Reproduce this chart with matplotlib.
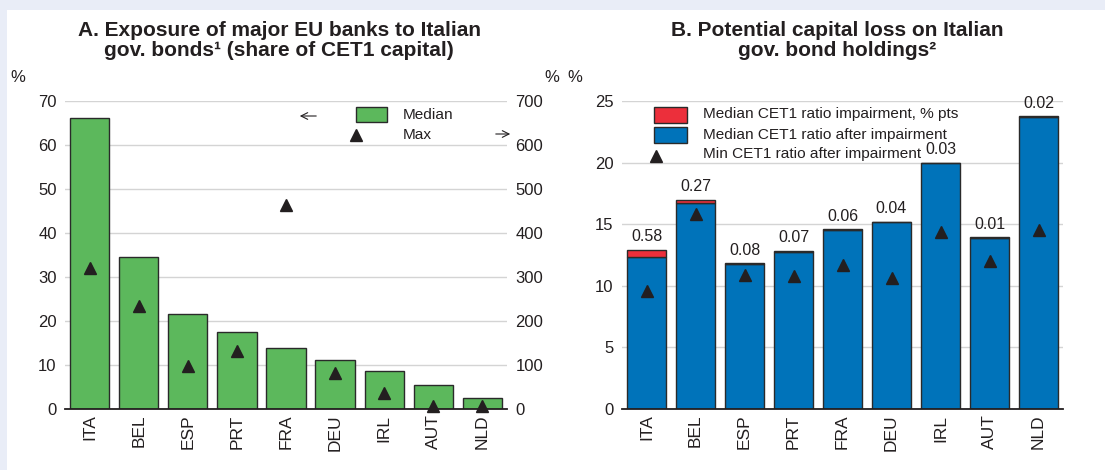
import matplotlib
matplotlib.use("Agg")
import matplotlib.pyplot as plt
from matplotlib.patches import Rectangle, FancyArrowPatch
from matplotlib.lines import Line2D

plt.rcParams['font.family'] = ['Liberation Sans', 'DejaVu Sans']
plt.rcParams['text.color'] = '#231f20'
plt.rcParams['axes.labelcolor'] = '#231f20'
plt.rcParams['xtick.color'] = '#231f20'
plt.rcParams['ytick.color'] = '#231f20'

# ---- data -----------------------------------------------------------------
countries = ["ITA", "BEL", "ESP", "PRT", "FRA", "DEU", "IRL", "AUT", "NLD"]

# Panel A: exposure to Italian government bonds, % of CET1 capital
exposure_median = [66.1, 34.5, 21.7, 17.6, 13.9, 11.1, 8.6, 5.5, 2.6]
exposure_max = [320, 235, 97, 132, 464, 82, 36, 7, 6]

# Panel B: CET1 ratios, %
cet1_after = [12.35, 16.70, 11.74, 12.77, 14.54, 15.14, 19.97, 13.92, 23.74]
cet1_impairment = [0.58, 0.27, 0.08, 0.07, 0.06, 0.04, 0.03, 0.01, 0.02]
cet1_min_after = [9.6, 15.8, 10.9, 10.8, 11.7, 10.6, 14.4, 12.0, 14.5]

yticks_a_left = [0, 10, 20, 30, 40, 50, 60, 70]
yticks_a_right = [0, 100, 200, 300, 400, 500, 600, 700]
yticks_b = [0, 5, 10, 15, 20, 25]

# ---- style ----------------------------------------------------------------
GREEN = '#5cb85c'
BLUE = '#0073ba'
RED = '#ec2f3b'
EDGE = '#2a2a2a'
DARK = '#231f20'
GRID = '#d4d4d4'
BAND = '#e9edf7'
FS = 11.5
YTICK_FS = 12
XTICK_FS = 12.5
LEG_FS = 11.1
BAR_W = 0.80

W, H = 1105, 470
fig = plt.figure(figsize=(W / 100, H / 100), dpi=100)


def fx(x):
    return x / W


def fy(y):
    return 1 - y / H


# light frame around the chart area
fig.patches.append(Rectangle((0, fy(10)), 1, 10 / H, transform=fig.transFigure,
                             facecolor=BAND, edgecolor='none', zorder=0))
fig.patches.append(Rectangle((0, 0), fx(7), 1, transform=fig.transFigure,
                             facecolor=BAND, edgecolor='none', zorder=0))


def style_axes(ax):
    for side in ('left', 'right', 'top'):
        ax.spines[side].set_visible(False)
    ax.spines['bottom'].set_color(DARK)
    ax.spines['bottom'].set_linewidth(1.3)
    ax.spines['bottom'].set_zorder(5)
    ax.tick_params(axis='both', length=0)
    ax.tick_params(axis='y', pad=6, labelsize=YTICK_FS)
    ax.tick_params(axis='x', pad=4, labelsize=XTICK_FS)
    ax.yaxis.grid(True, color=GRID, linewidth=1.0)
    ax.set_axisbelow(True)


x = list(range(len(countries)))

# ---- panel A --------------------------------------------------------------
axA = fig.add_axes([fx(65), fy(409), fx(442), 308 / H])
style_axes(axA)
axA.bar(x, exposure_median, width=BAR_W, color=GREEN, edgecolor=EDGE,
        linewidth=1.0, zorder=2)
axA.set_xlim(-0.5, 8.5)
axA.set_ylim(0, 70)
axA.set_yticks(yticks_a_left)
axA.set_xticks(x)
axA.set_xticklabels(countries, rotation=90)

axA2 = axA.twinx()
for side in ('left', 'right', 'top', 'bottom'):
    axA2.spines[side].set_visible(False)
axA2.set_ylim(0, 700)
axA2.set_yticks(yticks_a_right)
axA2.tick_params(axis='y', length=0, labelsize=YTICK_FS, pad=6)
axA2.plot(x, exposure_max, linestyle='none', marker='^', markersize=9,
          color=DARK, zorder=6, clip_on=False)

# ---- panel B --------------------------------------------------------------
axB = fig.add_axes([fx(622), fy(409), fx(441), 308 / H])
style_axes(axB)
axB.bar(x, cet1_after, width=BAR_W, color=BLUE, edgecolor=EDGE,
        linewidth=1.0, zorder=2)
axB.bar(x, cet1_impairment, bottom=cet1_after, width=BAR_W, color=RED,
        edgecolor=EDGE, linewidth=1.0, zorder=2)
axB.plot(x, cet1_min_after, linestyle='none', marker='^', markersize=9,
         color=DARK, zorder=6)
for xi, base, imp in zip(x, cet1_after, cet1_impairment):
    axB.annotate(f"{imp:.2f}", (xi, base + imp), xytext=(0, 4),
                 textcoords='offset points', ha='center', va='bottom',
                 fontsize=FS, zorder=7)
axB.set_xlim(-0.5, 8.5)
axB.set_ylim(0, 25)
axB.set_yticks(yticks_b)
axB.set_xticks(x)
axB.set_xticklabels(countries, rotation=90)

# ---- titles and unit labels ----------------------------------------------
TITLE_FS = 15.0
fig.text(fx(279), fy(30), "A. Exposure of major EU banks to Italian",
         ha='center', va='center', fontsize=TITLE_FS, fontweight='bold')
fig.text(fx(279), fy(50), "gov. bonds\u00b9 (share of CET1 capital)",
         ha='center', va='center', fontsize=TITLE_FS, fontweight='bold')
fig.text(fx(837), fy(30), "B. Potential capital loss on Italian",
         ha='center', va='center', fontsize=TITLE_FS, fontweight='bold')
fig.text(fx(837), fy(50), "gov. bond holdings\u00b2",
         ha='center', va='center', fontsize=TITLE_FS, fontweight='bold')
fig.text(fx(18), fy(77), "%", ha='center', va='center', fontsize=YTICK_FS)
fig.text(fx(552), fy(77), "%", ha='center', va='center', fontsize=YTICK_FS)
fig.text(fx(575), fy(77), "%", ha='center', va='center', fontsize=YTICK_FS)


# ---- legends --------------------------------------------------------------
def legend_box(x0, y0, x1, y1, color):
    fig.patches.append(Rectangle((fx(x0), fy(y1)), fx(x1 - x0), (y1 - y0) / H,
                                 transform=fig.transFigure, facecolor=color,
                                 edgecolor=EDGE, linewidth=1.0, zorder=8))


def legend_marker(xc, yc):
    fig.lines.append(Line2D([fx(xc)], [fy(yc)], transform=fig.transFigure,
                            marker='^', markersize=9, color=DARK,
                            linestyle='none', zorder=8))


def legend_text(x0, yc, s):
    fig.text(fx(x0), fy(yc), s, ha='left', va='center', fontsize=LEG_FS,
             zorder=8)


def legend_arrow(x_from, x_to, yc):
    fig.add_artist(FancyArrowPatch(
        (fx(x_from), fy(yc)), (fx(x_to), fy(yc)), transform=fig.transFigure,
        arrowstyle='->', mutation_scale=12, linewidth=0.8, color=DARK))


# panel A legend
legend_box(356, 107, 387, 122, GREEN)
legend_text(403, 115, "Median")
legend_marker(356, 135)
legend_text(403, 135, "Max")
legend_arrow(319, 297, 116)
legend_arrow(493, 513, 134)

# panel B legend
legend_box(654, 107, 687, 123, RED)
legend_text(703, 114, "Median CET1 ratio impairment, % pts")
legend_box(654, 127, 687, 143, BLUE)
legend_text(703, 134.5, "Median CET1 ratio after impairment")
legend_marker(656, 156)
legend_text(703, 154, "Min CET1 ratio after impairment")

fig.savefig("out.png", dpi=100)
